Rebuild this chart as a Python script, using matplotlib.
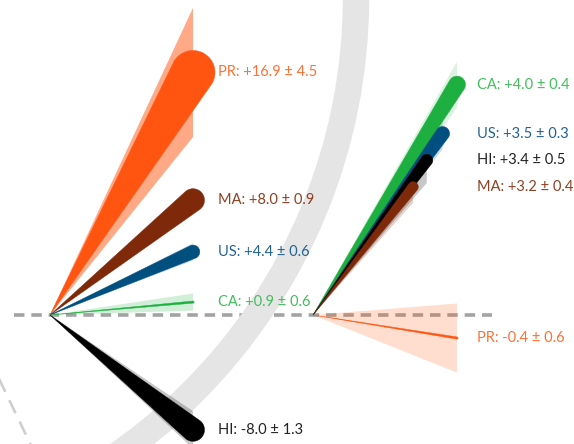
import numpy as np
import matplotlib
matplotlib.use("Agg")
import matplotlib.pyplot as plt
from matplotlib.patches import Polygon, Circle
from matplotlib.lines import Line2D

# ---------------- data ----------------
left_names = ["PR", "MA", "US", "CA", "HI"]
left_rate = [16.9, 8.0, 4.4, 0.9, -8.0]
left_err = [4.5, 0.9, 0.6, 0.6, 1.3]
left_span = [1.0, 1.0, 1.0, 1.0, 1.0]

right_names = ["CA", "US", "HI", "MA", "PR"]
right_rate = [4.0, 3.5, 3.4, 3.2, -0.4]
right_err = [0.4, 0.3, 0.5, 0.4, 0.6]
right_span = [1.0, 0.90, 0.79, 0.695, 1.0]

# ---------------- styles ----------------
colors = {"PR": "#ff5510", "MA": "#7e2a0a", "US": "#00507f", "CA": "#1db040", "HI": "#000000"}
label_colors = {"PR": "#ff7035", "MA": "#8e4024", "US": "#226293", "CA": "#43be5c", "HI": "#222222"}
cone_colors = {"PR": "#ff5510", "MA": "#7e2a0a", "US": "#00507f", "CA": "#1db040", "HI": "#000000"}
left_cap = {"PR": 22, "MA": 11.5, "US": 6.8, "CA": 1.1, "HI": 11.5}
left_cone_alpha = {"PR": 0.5, "MA": 0.2, "US": 0.2, "CA": 0.2, "HI": 0.22}
right_cap = {"CA": 8.5, "US": 7.0, "HI": 6.0, "MA": 5.2, "PR": 1.1}
right_cone_alpha = {"CA": 0.15, "US": 0.2, "HI": 0.22, "MA": 0.2, "PR": 0.2}

W, H = 574, 444
fig = plt.figure(figsize=(W / 100, H / 100), dpi=100)
fig.patch.set_facecolor("white")
plt.rcParams['font.family'] = ['Lato', 'DejaVu Sans']

# background axes in pixel coordinates (decoration)
bg = fig.add_axes([0, 0, 1, 1])
bg.set_xlim(0, W)
bg.set_ylim(H, 0)
bg.axis("off")

# horizontal baseline (dashed)
bg.add_line(Line2D([14, 492], [315, 315], color="#a3a3a3", lw=2.6,
                   dashes=(2.9, 1.9), zorder=1))
# big arc
bg.add_patch(Circle((-201, -2), 557, fill=False, ec="#e5e5e5", lw=19, zorder=2))
# small dashed arc bottom-left
bg.add_line(Line2D([-10, 40], [360, 464], color="#cfcfcf", lw=1.9,
                   dashes=(5.5, 3.5), zorder=2))


def make_axes(origin_px, sx, sy):
    ox, oy = origin_px
    ax = fig.add_axes([0, 0, 1, 1])
    ax.set_xlim(-ox / sx, (W - ox) / sx)
    ax.set_ylim(-(H - oy) / sy, oy / sy)
    ax.axis("off")
    ax.patch.set_alpha(0)
    return ax


def draw_group(ax, names, rates, errs, spans, caps, cone_alpha, label_dx):
    tr = ax.transData
    inv = tr.inverted()
    # cones first
    for n, v, e, s in zip(names, rates, errs, spans):
        poly = [(0, 0), (s, (v + e) * s), (s, (v - e) * s)]
        ax.add_patch(Polygon(poly, closed=True, fc=cone_colors[n], ec="none",
                             alpha=cone_alpha[n], zorder=3))
    # wedges
    for n, v, e, s in zip(names, rates, errs, spans):
        p0 = tr.transform((0, 0))
        p1 = tr.transform((s, v * s))
        d = p1 - p0
        d = d / np.hypot(*d)
        ang = np.arctan2(d[1], d[0])
        r = caps[n]
        th = np.linspace(ang + np.pi / 2, ang - np.pi / 2, 40)
        pts = [p0] + [p1 + r * np.array([np.cos(t), np.sin(t)]) for t in th]
        pts = inv.transform(np.array(pts))
        ax.add_patch(Polygon(pts, closed=True, fc=colors[n], ec=colors[n],
                             lw=0.3, zorder=4))
        sign = "+" if v > 0 else "-"
        txt = f"{n}: {sign}{abs(v):.1f} ± {e:.1f}"
        ax.annotate(txt, xy=(1.0, v * s), xytext=(label_dx, 0),
                    textcoords="offset pixels", ha="left", va="center",
                    color=label_colors[n], fontsize=10.5, zorder=6)


axL = make_axes((50, 315), 143.0, 14.35)
draw_group(axL, left_names, left_rate, left_err, left_span, left_cap,
           left_cone_alpha, 25)

axR = make_axes((313, 315), 144.0, 57.6)
draw_group(axR, right_names, right_rate, right_err, right_span, right_cap,
           right_cone_alpha, 20)

fig.savefig("out.png", dpi=100, facecolor="white")
